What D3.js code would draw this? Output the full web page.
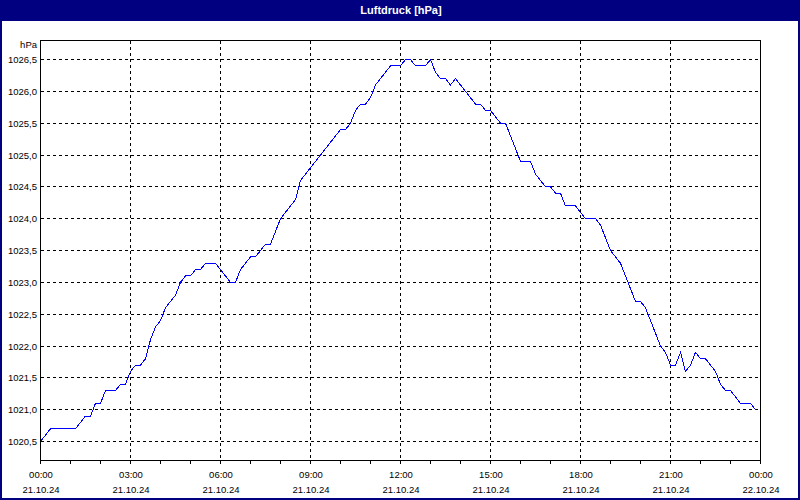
<!DOCTYPE html>
<html>
<head>
<meta charset="utf-8">
<script src="https://cdn.jsdelivr.net/npm/d3@7"></script>
<style>
  html, body { margin: 0; padding: 0; background: #ffffff; }
  svg { display: block; }
  text { font-family: "Liberation Sans", Arial, sans-serif; }
</style>
</head>
<body>
<svg id="chart" width="800" height="500"></svg>
<script>
// ---- data ----
const chartTitle = "Luftdruck [hPa]";
const unitLabel = "hPa";
const sampleMinutes = 10; // one reading every 10 minutes, starting 21.10.24 00:00
const pressure = [
  1020.5, 1020.6, 1020.7, 1020.7, 1020.7, 1020.7, 1020.7, 1020.7, 1020.8, 1020.9,
  1020.9, 1021.1, 1021.1, 1021.3, 1021.3, 1021.3, 1021.4, 1021.4, 1021.6, 1021.7,
  1021.7, 1021.8, 1022.1, 1022.3, 1022.4, 1022.6, 1022.7, 1022.8, 1023.0, 1023.1,
  1023.1, 1023.2, 1023.2, 1023.3, 1023.3, 1023.3, 1023.2, 1023.1, 1023.0, 1023.0,
  1023.2, 1023.3, 1023.4, 1023.4, 1023.5, 1023.6, 1023.6, 1023.8, 1024.0, 1024.1,
  1024.2, 1024.3, 1024.6, 1024.7, 1024.8, 1024.9, 1025.0, 1025.1, 1025.2, 1025.3,
  1025.4, 1025.4, 1025.5, 1025.7, 1025.8, 1025.8, 1025.9, 1026.1, 1026.2, 1026.3,
  1026.4, 1026.4, 1026.4, 1026.5, 1026.5, 1026.4, 1026.4, 1026.4, 1026.5, 1026.3,
  1026.2, 1026.2, 1026.1, 1026.2, 1026.1, 1026.0, 1025.9, 1025.8, 1025.8, 1025.7,
  1025.7, 1025.6, 1025.5, 1025.5, 1025.3, 1025.1, 1024.9, 1024.9, 1024.9, 1024.7,
  1024.6, 1024.5, 1024.5, 1024.4, 1024.4, 1024.2, 1024.2, 1024.2, 1024.1, 1024.0,
  1024.0, 1024.0, 1023.9, 1023.7, 1023.5, 1023.4, 1023.3, 1023.1, 1022.9, 1022.7,
  1022.7, 1022.6, 1022.4, 1022.2, 1022.0, 1021.9, 1021.7, 1021.7, 1021.9, 1021.6,
  1021.7, 1021.9, 1021.8, 1021.8, 1021.7, 1021.6, 1021.4, 1021.3, 1021.3, 1021.2,
  1021.1, 1021.1, 1021.1, 1021.0
];
const xTickHours   = [0, 3, 6, 9, 12, 15, 18, 21, 24];
const xTimeLabels  = ["00:00", "03:00", "06:00", "09:00", "12:00", "15:00", "18:00", "21:00", "00:00"];
const xDateLabels  = ["21.10.24", "21.10.24", "21.10.24", "21.10.24", "21.10.24", "21.10.24", "21.10.24", "21.10.24", "22.10.24"];
const xMinorHours  = [0,1,2,3,4,5,6,7,8,9,10,11,12,13,14,15,16,17,18,19,20,21,22,23,24];
const yTicks       = [1020.5, 1021.0, 1021.5, 1022.0, 1022.5, 1023.0, 1023.5, 1024.0, 1024.5, 1025.0, 1025.5, 1026.0, 1026.5];
const yTickLabels  = ["1020,5", "1021,0", "1021,5", "1022,0", "1022,5", "1023,0", "1023,5", "1024,0", "1024,5", "1025,0", "1025,5", "1026,0", "1026,5"];

// ---- layout ----
const W = 800, H = 500;
const navy = "#000080";
const plot = { left: 40, right: 760, top: 40, bottom: 460 };

const svg = d3.select("#chart");

// background
svg.append("rect").attr("x", 0).attr("y", 0).attr("width", W).attr("height", H).attr("fill", "#ffffff");

// title bar
svg.append("rect").attr("x", 0).attr("y", 0).attr("width", W).attr("height", 21).attr("fill", navy);
svg.append("text")
  .attr("x", 401).attr("y", 14)
  .attr("text-anchor", "middle")
  .attr("fill", "#ffffff")
  .attr("font-size", "11px")
  .attr("font-weight", "bold")
  .text(chartTitle);

// outer frame
svg.append("rect")
  .attr("x", 1).attr("y", 1).attr("width", W - 2).attr("height", H - 2)
  .attr("fill", "none").attr("stroke", navy).attr("stroke-width", 2);

// scales
const x = d3.scaleLinear().domain([0, 24]).range([plot.left, plot.right]);
const y = d3.scaleLinear().domain([1020.5, 1026.5]).range([441, 59]);

const gGrid = svg.append("g").attr("shape-rendering", "crispEdges");

// horizontal grid lines
gGrid.selectAll("line.hgrid").data(yTicks).join("line")
  .attr("class", "hgrid")
  .attr("x1", plot.left + 1).attr("x2", plot.right)
  .attr("y1", d => Math.round(y(d)) + 0.5).attr("y2", d => Math.round(y(d)) + 0.5)
  .attr("stroke", "#000").attr("stroke-width", 1).attr("stroke-dasharray", "3,3");

// vertical grid lines
gGrid.selectAll("line.vgrid").data(xTickHours.filter(h => h > 0 && h < 24)).join("line")
  .attr("class", "vgrid")
  .attr("x1", d => Math.round(x(d)) + 0.5).attr("x2", d => Math.round(x(d)) + 0.5)
  .attr("y1", plot.top + 1).attr("y2", plot.bottom)
  .attr("stroke", "#000").attr("stroke-width", 1).attr("stroke-dasharray", "3,3");

// plot box
svg.append("rect")
  .attr("x", plot.left + 0.5).attr("y", plot.top + 0.5)
  .attr("width", plot.right - plot.left).attr("height", plot.bottom - plot.top)
  .attr("fill", "none").attr("stroke", "#000").attr("stroke-width", 1)
  .attr("shape-rendering", "crispEdges");

// bottom axis minor ticks (hourly)
const xAxis = d3.axisBottom(x).tickValues(xMinorHours).tickSize(3).tickSizeOuter(0).tickFormat("");
const gx = svg.append("g").attr("transform", `translate(0,${plot.bottom + 1})`).call(xAxis);
gx.select(".domain").remove();
gx.selectAll("line").attr("stroke", "#000").attr("shape-rendering", "crispEdges");

// x labels
const gxl = svg.append("g").attr("font-size", "9.5px").attr("fill", "#000").attr("text-anchor", "middle");
gxl.selectAll("text.t").data(xTickHours).join("text")
  .attr("class", "t")
  .attr("x", d => x(d) + 1).attr("y", 477.5)
  .text((d, i) => xTimeLabels[i]);
gxl.selectAll("text.d").data(xTickHours).join("text")
  .attr("class", "d")
  .attr("x", d => x(d) + 1).attr("y", 492.5)
  .text((d, i) => xDateLabels[i]);

// y labels
const gyl = svg.append("g").attr("font-size", "9.5px").attr("fill", "#000").attr("text-anchor", "end");
gyl.selectAll("text").data(yTicks).join("text")
  .attr("x", 37).attr("y", d => Math.round(y(d)) + 4)
  .text((d, i) => yTickLabels[i]);
svg.append("text")
  .attr("x", 37).attr("y", 48)
  .attr("text-anchor", "end").attr("font-size", "9.5px").attr("fill", "#000")
  .text(unitLabel);

// line
const line = d3.line()
  .x((d, i) => x(i * sampleMinutes / 60) + 0.5)
  .y(d => y(d) + 0.5);
svg.append("path")
  .datum(pressure)
  .attr("d", line)
  .attr("fill", "none")
  .attr("stroke", "#0000ff")
  .attr("stroke-width", 1)
  .attr("shape-rendering", "crispEdges");
</script>
</body>
</html>
